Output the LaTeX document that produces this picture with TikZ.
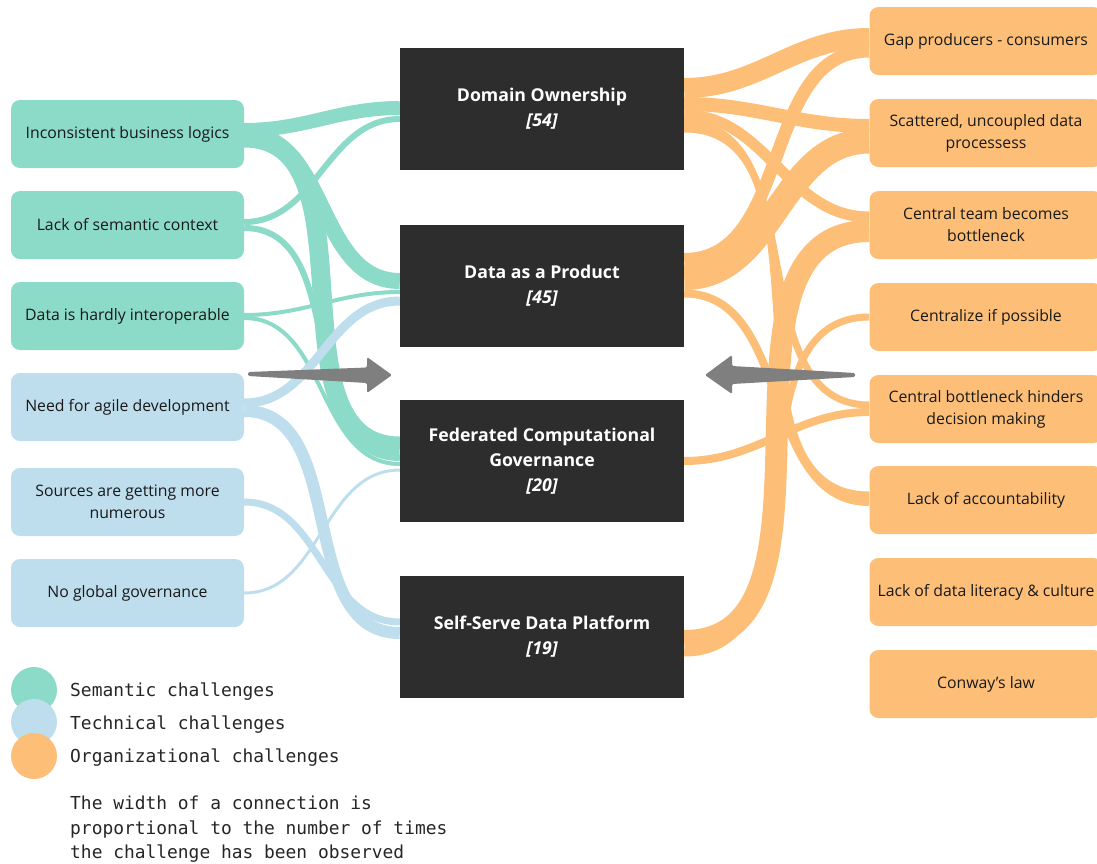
\documentclass[tikz,border=0pt]{standalone}
\usepackage{fontspec}
\setmainfont{Open Sans}
\newfontfamily\legendfont{DejaVu Sans Mono}
\definecolor{semantic}{HTML}{8CDAC8}
\definecolor{technical}{HTML}{BEDEEE}
\definecolor{organizational}{HTML}{FDBF78}
\definecolor{principlebg}{HTML}{2D2D2D}
\definecolor{arrowgray}{HTML}{7F7F7F}
\pgfdeclarelayer{bands}
\pgfsetlayers{bands,main}
\tikzset{
  challenge/.style={fill=#1, rounded corners=9pt, minimum width=233pt, minimum height=68pt,
    inner sep=0pt, align=center, text=black!90, font=\fontsize{15.8}{22}\selectfont},
  principle/.style={fill=principlebg, minimum width=284pt, minimum height=122pt,
    inner sep=0pt, align=center, text=white, font=\fontsize{17.7}{25}\selectfont\bfseries},
  band/.style={draw=#1, line cap=butt},
  legendtext/.style={anchor=west, inner sep=0pt, text=black!85, font=\fontsize{17.9}{24.5}\selectfont\legendfont}
}
\begin{document}
\begin{tikzpicture}[x=1pt,y=-1pt]
  \useasboundingbox (0,0) rectangle (1097,863);
  \clip (0,0) rectangle (1097,863);

  % challenges, left
  \node[challenge=semantic]  (inc)     at (127.5,134) {Inconsistent business logics};
  \node[challenge=semantic]  (lack)    at (127.5,225) {Lack of semantic context};
  \node[challenge=semantic]  (interop) at (127.5,316) {Data is hardly interoperable};
  \node[challenge=technical] (agile)   at (127.5,407) {Need for agile development};
  \node[challenge=technical] (sources) at (127.5,502) {Sources are getting more\\numerous};
  \node[challenge=technical] (noglob)  at (127.5,593) {No global governance};

  % principles
  \node[principle] (do)   at (542,109)   {Domain Ownership\\{\itshape [54]}};
  \node[principle] (daap) at (542,285.5) {Data as a Product\\{\itshape [45]}};
  \node[principle] (fcg)  at (542,461)   {Federated Computational\\Governance\\{\itshape [20]}};
  \node[principle] (ssdp) at (542,636.5) {Self-Serve Data Platform\\{\itshape [19]}};

  % challenges, right
  \node[challenge=organizational] (gap)   at (986,41)  {Gap producers - consumers};
  \node[challenge=organizational] (scat)  at (986,133) {Scattered, uncoupled data\\processess};
  \node[challenge=organizational] (cent)  at (986,225) {Central team becomes\\bottleneck};
  \node[challenge=organizational] (centr) at (986,317) {Centralize if possible};
  \node[challenge=organizational] (hind)  at (986,409) {Central bottleneck hinders\\decision making};
  \node[challenge=organizational] (acc)   at (986,500) {Lack of accountability};
  \node[challenge=organizational] (lit)   at (986,592) {Lack of data literacy \& culture};
  \node[challenge=organizational] (conw)  at (986,684) {Conway's law};

  \begin{pgfonlayer}{bands}
    % left side
    \draw[band=semantic, line width=14pt] ([yshift=4pt]inc.east) to[out=0,in=180] ([yshift=1pt]do.west);
    \draw[band=semantic, line width=16pt] (inc.east) to[out=0,in=180] ([yshift=4.5pt]daap.west);
    \draw[band=semantic, line width=19pt] ([yshift=-4pt]inc.east) to[out=0,in=180] ([yshift=15pt]fcg.west);
    \draw[band=semantic, line width=6pt] ([yshift=3pt]lack.east) to[out=0,in=180] ([yshift=-10pt]do.west);
    \draw[band=semantic, line width=6pt] ([yshift=-3pt]lack.east) to[out=0,in=180] ([yshift=3pt]fcg.west);
    \draw[band=semantic, line width=4pt] ([yshift=1pt]interop.east) to[out=0,in=180] ([yshift=-6.5pt]daap.west);
    \draw[band=semantic, line width=4pt] ([yshift=-2pt]interop.east) to[out=0,in=180] ([yshift=-3pt]fcg.west);
    \draw[band=technical, line width=9pt] ([yshift=4pt]agile.east) to[out=0,in=180] ([yshift=-15.5pt]daap.west);
    \draw[band=technical, line width=12pt] ([yshift=-4pt]agile.east) to[out=0,in=180] ([yshift=3.5pt]ssdp.west);
    \draw[band=technical, line width=7pt] (sources.east) to[out=0,in=180] ([yshift=14.5pt]ssdp.west);
    \draw[band=technical, line width=3pt] (noglob.east) to[out=0,in=180] ([yshift=-9pt]fcg.west);
    % right side
    \draw[band=organizational, line width=20pt] ([yshift=21pt]do.east) to[out=0,in=180] ([yshift=3pt]gap.west);
    \draw[band=organizational, line width=13pt] ([yshift=26pt]daap.east) to[out=0,in=180] ([yshift=-10pt]gap.west);
    \draw[band=organizational, line width=14pt] ([yshift=5pt]do.east) to[out=0,in=180] ([yshift=7pt]scat.west);
    \draw[band=organizational, line width=25pt] ([yshift=8pt]daap.east) to[out=0,in=180] ([yshift=-8pt]scat.west);
    \draw[band=organizational, line width=11pt] ([yshift=-6pt]do.east) to[out=0,in=180] ([yshift=8pt]cent.west);
    \draw[band=organizational, line width=22pt] ([yshift=-4.5pt]ssdp.east) to[out=0,in=180] ([yshift=-6pt]cent.west);
    \draw[band=organizational, line width=7pt] ([yshift=-16.5pt]ssdp.east) to[out=0,in=180] (centr.west);
    \draw[band=organizational, line width=7pt] ([yshift=-14pt]do.east) to[out=0,in=180] ([yshift=4pt]hind.west);
    \draw[band=organizational, line width=8pt] (fcg.east) to[out=0,in=180] ([yshift=-3pt]hind.west);
    \draw[band=organizational, line width=7pt] ([yshift=-20pt]do.east) to[out=0,in=180] ([yshift=5pt]acc.west);
    \draw[band=organizational, line width=8pt] ([yshift=-8pt]daap.east) to[out=0,in=180] ([yshift=-2pt]acc.west);
  \end{pgfonlayer}

  % big arrows
  \fill[arrowgray, rounded corners=1.5pt] (248,372) -- (367,367.5) -- (367,357) -- (392,375)
    -- (367,393) -- (367,383) -- (248,376) -- cycle;
  \fill[arrowgray, rounded corners=1.5pt] (855,373) -- (732,366) -- (732,355) -- (705,375)
    -- (732,394) -- (732,384) -- (855,377) -- cycle;

  % legend
  \fill[semantic] (34,690) circle (23);
  \fill[technical] (34,722) circle (23);
  \fill[organizational] (34,756) circle (23);
  \node[legendtext] (lsem) at (70,692) {Semantic challenges};
  \node[legendtext] (ltec) at (70,725) {Technical challenges};
  \node[legendtext] (lorg) at (70,758) {Organizational challenges};
  \node[legendtext, anchor=north west, align=left] (note) at (70,796)
    {The width of a connection is\\proportional to the number of times\\the challenge has been observed};
\end{tikzpicture}
\end{document}
